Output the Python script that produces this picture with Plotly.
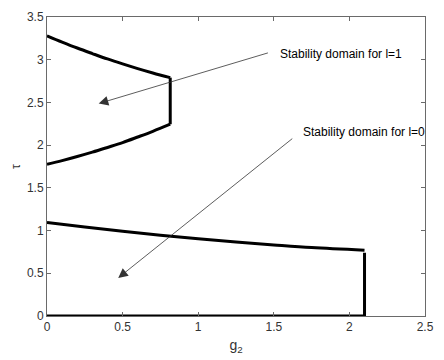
import plotly.graph_objects as go

# Stability boundary for l=1 (upper region): upper and lower branches
g2_l1 = [0.0, 0.1, 0.2, 0.3, 0.4, 0.5, 0.6, 0.7, 0.815]
tau_l1_upper = [3.28, 3.207, 3.137, 3.072, 3.009, 2.951, 2.896, 2.845, 2.79]
tau_l1_lower = [1.775, 1.819, 1.867, 1.918, 1.973, 2.03, 2.095, 2.162, 2.245]

# Stability boundary for l=0 (lower region)
g2_l0 = [0.0, 0.25, 0.5, 0.75, 1.0, 1.25, 1.5, 1.75, 2.1]
tau_l0 = [1.094, 1.041, 0.992, 0.946, 0.904, 0.866, 0.832, 0.801, 0.77]
g2_l0_edge = [2.1, 2.1, 0.0]
tau_l0_edge = [0.74, 0.0, 0.0]

x_ticks = [0, 0.5, 1, 1.5, 2, 2.5]
y_ticks = [0, 0.5, 1, 1.5, 2, 2.5, 3, 3.5]

line = dict(color="black", width=3)
smooth = dict(color="black", width=3, shape="spline", smoothing=1.0)

fig = go.Figure()
# l=1 domain: upper branch, lower branch and the vertical edge joining them
fig.add_trace(go.Scatter(x=g2_l1, y=tau_l1_upper, mode="lines", line=smooth, hoverinfo="skip"))
fig.add_trace(go.Scatter(x=g2_l1, y=tau_l1_lower, mode="lines", line=smooth, hoverinfo="skip"))
fig.add_trace(go.Scatter(x=[g2_l1[-1], g2_l1[-1]], y=[tau_l1_upper[-1], tau_l1_lower[-1]],
                         mode="lines", line=line, hoverinfo="skip"))
# l=0 domain
fig.add_trace(go.Scatter(x=g2_l0, y=tau_l0, mode="lines", line=smooth, hoverinfo="skip"))
fig.add_trace(go.Scatter(x=g2_l0_edge, y=tau_l0_edge, mode="lines", line=line,
                         hoverinfo="skip", cliponaxis=False))

text_font = dict(family="Liberation Sans, Arial, sans-serif", size=12, color="black")
arrow = dict(showarrow=True, arrowhead=2, arrowsize=2.4, arrowwidth=0.8,
             arrowcolor="#333", axref="x", ayref="y", text="")

fig.add_annotation(x=0.342, y=2.487, ax=1.471, ay=3.085, **arrow)
fig.add_annotation(x=0.471, y=0.446, ax=1.632, ay=2.09, **arrow)
fig.add_annotation(x=1.525, y=3.07, xanchor="left", yanchor="middle", showarrow=False,
                   text="Stability domain for l=1", font=text_font)
fig.add_annotation(x=1.68, y=2.15, xanchor="left", yanchor="middle", showarrow=False,
                   text="Stability domain for l=0", font=text_font)

axis_common = dict(
    showline=True, mirror="ticks", linecolor="#6a6a6a", linewidth=1,
    ticks="inside", ticklen=4, tickcolor="#6a6a6a", tickwidth=1,
    showgrid=False, zeroline=False,
    tickfont=dict(family="Liberation Sans, Arial, sans-serif", size=12, color="#333"),
)

fig.update_layout(
    width=444, height=360,
    margin=dict(l=47, r=10, t=12, b=44),
    paper_bgcolor="white", plot_bgcolor="white",
    showlegend=False,
    xaxis=dict(range=[0, 2.5], tickvals=x_ticks, ticktext=[str(v) for v in x_ticks],
               title=dict(text="g<sub>2</sub>", standoff=6,
                          font=dict(family="Liberation Sans, Arial, sans-serif",
                                    size=14, color="#333")),
               **axis_common),
    yaxis=dict(range=[0, 3.5], tickvals=y_ticks, ticktext=[str(v) for v in y_ticks],
               title=dict(text="τ", standoff=3,
                          font=dict(family="Liberation Sans, Arial, sans-serif",
                                    size=12, color="#333")),
               **axis_common),
)

fig.write_html("out.html")
